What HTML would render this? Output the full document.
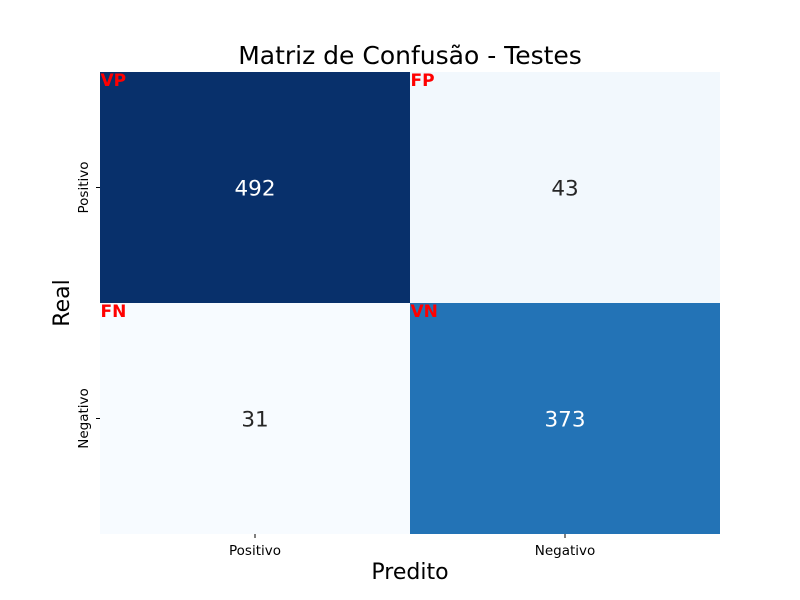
<!DOCTYPE html>
<html><head><meta charset="utf-8"><style>body{margin:0;background:#fff}svg{display:block;font-family:"DejaVu Sans","Liberation Sans",sans-serif}</style></head>
<body>
<svg id="chart" width="800" height="600" viewBox="0 0 800 600" xmlns="http://www.w3.org/2000/svg">
<rect width="800" height="600" fill="#fff"/>
<text x="410" y="64" font-size="25" text-anchor="middle" fill="#000">Matriz de Confusão - Testes</text>
<text x="410" y="579" font-size="22" text-anchor="middle" fill="#000">Predito</text>
<text transform="translate(69,303) rotate(-90)" font-size="22" text-anchor="middle" fill="#000">Real</text>
<g id="cells"></g>
</svg>
<script>
const xCategories = ["Positivo", "Negativo"];
const yCategories = ["Positivo", "Negativo"];
const values = [[492, 43], [31, 373]];
const cellTags = [["VP", "FP"], ["FN", "VN"]];

const svgEl = document.getElementById('chart');
const cellGroup = document.getElementById('cells');
const NS = 'http://www.w3.org/2000/svg';
const plotLeft = 100, plotTop = 72, plotW = 620, plotH = 462;
const cw = plotW / xCategories.length, ch = plotH / yCategories.length;
const flat = values.flat();
const vmin = Math.min(...flat), vmax = Math.max(...flat);
const stops = ["#f7fbff","#deebf7","#c6dbef","#9ecae1","#6baed6","#4292c6","#2171b5","#08519c","#08306b"];
function hex(h){return [1,3,5].map(i=>parseInt(h.substr(i,2),16));}
function blues(t){
  t = Math.max(0, Math.min(1, t)) * (stops.length - 1);
  const i = Math.min(Math.floor(t), stops.length - 2), f = t - i;
  const a = hex(stops[i]), b = hex(stops[i+1]);
  return 'rgb(' + a.map((v,k)=>Math.round(v + (b[k]-v)*f)).join(',') + ')';
}
function xPos(j){return plotLeft + j * cw;}
function yPos(i){return plotTop + i * ch;}
function mk(tag, attrs){const e = document.createElementNS(NS, tag); for (const k in attrs) e.setAttribute(k, attrs[k]); return e;}

values.forEach((row, i) => row.forEach((v, j) => {
  const t = (v - vmin) / (vmax - vmin);
  const r = mk('rect', {x: xPos(j), y: yPos(i), width: cw, height: ch, fill: blues(t)});
  
  
  cellGroup.appendChild(r);
  const tx = mk('text', {x: xPos(j) + cw/2, y: yPos(i) + ch/2 + 8, 'font-size': 21.5, 'text-anchor': 'middle', fill: t > 0.5 ? '#ffffff' : '#262626'});
  tx.textContent = v;
  
  
  cellGroup.appendChild(tx);
  const tg = mk('text', {x: xPos(j) + 0.5, y: yPos(i) + 14, 'font-size': 17, 'font-weight': 'bold', fill: '#ff0000'});
  tg.textContent = cellTags[i][j];
  
  
  cellGroup.appendChild(tg);
}));

xCategories.forEach((c, j) => {
  const x = xPos(j) + cw/2;
  const tk = mk('line', {x1: x, x2: x, y1: plotTop + plotH, y2: plotTop + plotH + 4, stroke: '#000', 'stroke-width': 1});
  
  
  svgEl.appendChild(tk);
  const lb = mk('text', {x: x, y: plotTop + plotH + 21, 'font-size': 13.5, 'text-anchor': 'middle', fill: '#000'});
  lb.textContent = c;
  
  
  svgEl.appendChild(lb);
});
yCategories.forEach((c, i) => {
  const y = yPos(i) + ch/2;
  const tk = mk('line', {x1: plotLeft - 4, x2: plotLeft, y1: y, y2: y, stroke: '#000', 'stroke-width': 1});
  
  
  svgEl.appendChild(tk);
  const lb = mk('text', {transform: 'translate(' + (plotLeft - 12) + ',' + y + ') rotate(-90)', 'font-size': 13.5, 'text-anchor': 'middle', fill: '#000'});
  lb.textContent = c;
  
  
  svgEl.appendChild(lb);
});
</script>
</body></html>
